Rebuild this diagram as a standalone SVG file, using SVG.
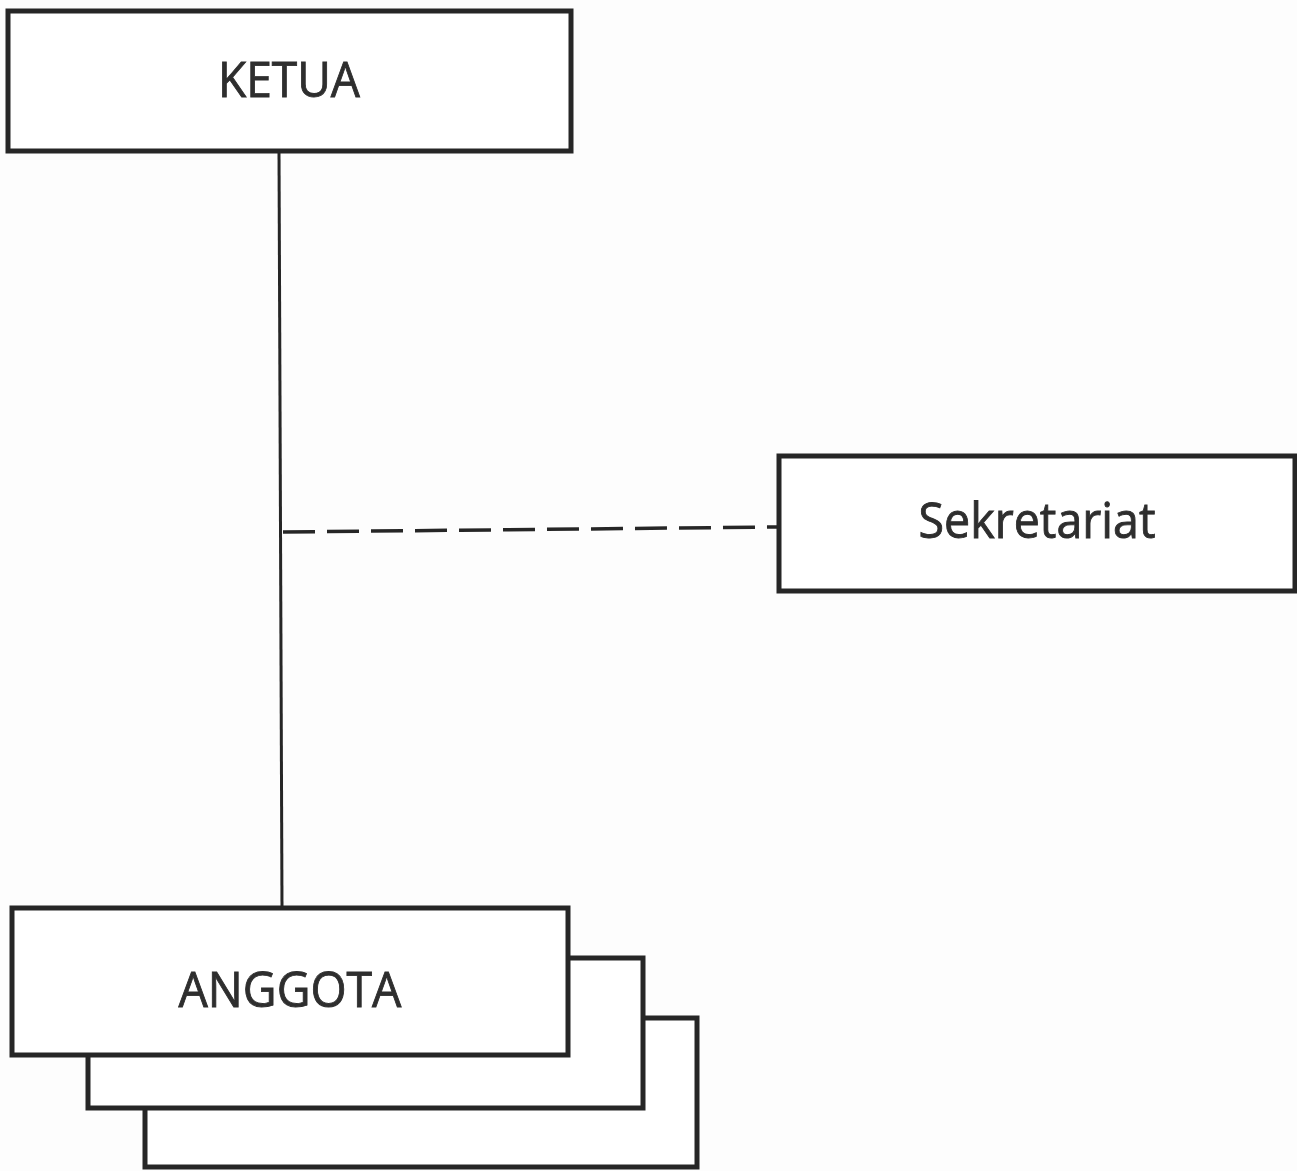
<svg xmlns="http://www.w3.org/2000/svg" width="1297" height="1171" viewBox="0 0 1297 1171">
  <style>
    .box { fill: #ffffff; stroke: #262626; stroke-width: 5; }
    .lbl { font-family: "Open Sans", "Liberation Sans", sans-serif; font-size: 50px; fill: #2e2e2e; stroke: #2e2e2e; stroke-width: 0.9; text-anchor: middle; }
    .conn { stroke: #262626; stroke-width: 3; fill: none; }
    .dash { stroke-dasharray: 32 12; stroke-width: 3.5; }
  </style>
  <rect x="0" y="0" width="1297" height="1171" fill="#fdfdfd"/>
  <g id="connectors">
    <line class="conn" x1="279" y1="151" x2="282" y2="908"/>
    <line class="conn dash" x1="283" y1="532" x2="778" y2="527"/>
  </g>
  <g id="node-ketua">
    <rect class="box" x="8" y="11" width="563" height="140"/>
    <text class="lbl" x="289" y="97" textLength="142" lengthAdjust="spacingAndGlyphs">KETUA</text>
  </g>
  <g id="node-sekretariat">
    <rect class="box" x="779" y="456" width="516" height="135"/>
    <text class="lbl" x="1037" y="538" textLength="237" lengthAdjust="spacingAndGlyphs">Sekretariat</text>
  </g>
  <g id="node-anggota">
    <rect class="box" x="145" y="1018" width="552" height="149"/>
    <rect class="box" x="88" y="958" width="555" height="150"/>
    <rect class="box" x="12" y="908" width="556" height="147"/>
    <text class="lbl" x="290" y="1007" textLength="223" lengthAdjust="spacingAndGlyphs">ANGGOTA</text>
  </g>
</svg>
